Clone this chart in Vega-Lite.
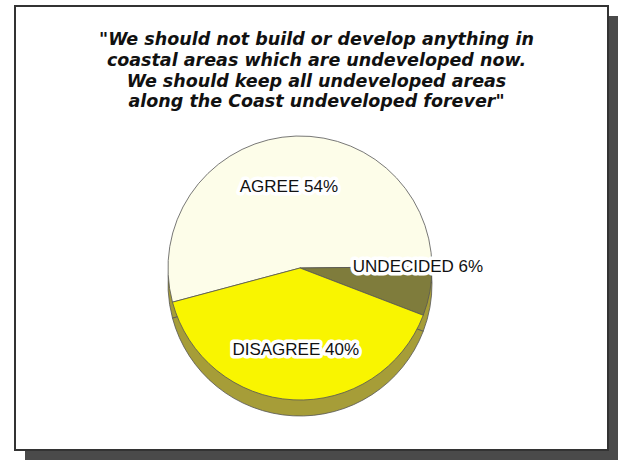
{
  "$schema": "https://vega.github.io/schema/vega-lite/v6.json",
  "width": 603,
  "height": 454,
  "autosize": "none",
  "padding": {"left": 15, "top": 6, "right": 0, "bottom": 0},
  "background": "white",
  "config": {"view": {"stroke": null}},
  "title": {
    "text": ["\"We should not build or develop anything in", "coastal areas which are undeveloped now.", "We should keep all undeveloped areas", "along the Coast undeveloped forever\""],
    "font": "DejaVu Sans",
    "fontSize": 17.5,
    "fontStyle": "italic",
    "fontWeight": "bold",
    "color": "#111111",
    "lineHeight": 20.7,
    "anchor": "middle",
    "offset": -106
  },
  "data": {
    "values": [
      {"answer": "AGREE", "pct": 54, "order": 1, "label": "AGREE 54%"},
      {"answer": "UNDECIDED", "pct": 6, "order": 2, "label": "UNDECIDED 6%"},
      {"answer": "DISAGREE", "pct": 40, "order": 3, "label": "DISAGREE 40%"}
    ]
  },
  "layer": [
    {
      "data": {"values": [{}]},
      "mark": {"type": "rect", "fill": "#4a4a4a"},
      "encoding": {"x": {"value": 10}, "x2": {"value": "width"}, "y": {"value": 10}, "y2": {"value": "height"}}
    },
    {
      "data": {"values": [{}]},
      "mark": {"type": "rect", "fill": "white", "stroke": "#333333", "strokeWidth": 2},
      "encoding": {"x": {"value": 0}, "x2": {"value": 593}, "y": {"value": 0}, "y2": {"value": 444}}
    },
    {
      "mark": {"type": "arc", "outerRadius": 132, "xOffset": -16.5, "yOffset": 51, "fill": "#a69d38", "stroke": "#555555", "strokeWidth": 0.8},
      "encoding": {
        "theta": {"field": "pct", "type": "quantitative", "stack": true, "scale": {"range": [-1.8326, 4.4506]}},
        "order": {"field": "order", "type": "quantitative"}
      }
    },
    {
      "mark": {"type": "arc", "outerRadius": 132, "xOffset": -16.5, "yOffset": 35, "stroke": "#555555", "strokeWidth": 0.8},
      "encoding": {
        "theta": {"field": "pct", "type": "quantitative", "stack": true},
        "order": {"field": "order", "type": "quantitative"},
        "color": {"field": "answer", "type": "nominal", "legend": null,
          "scale": {"domain": ["AGREE", "UNDECIDED", "DISAGREE"], "range": ["#fdfde9", "#7f7c3c", "#f9f500"]}}
      }
    },
    {
      "mark": {"type": "text", "radius": 82, "xOffset": -16.5, "yOffset": 35, "font": "Liberation Sans", "fontSize": 17, "fill": "white", "stroke": "white", "strokeWidth": 7, "strokeJoin": "round"},
      "encoding": {
        "theta": {"field": "pct", "type": "quantitative", "stack": true},
        "order": {"field": "order", "type": "quantitative"},
        "text": {"condition": {"test": "datum.answer != 'UNDECIDED'", "field": "label"}, "value": ""}
      }
    },
    {
      "mark": {"type": "text", "radius": 118, "thetaOffset": -0.19, "xOffset": -16.5, "yOffset": 35, "font": "Liberation Sans", "fontSize": 17, "fill": "white", "stroke": "white", "strokeWidth": 7, "strokeJoin": "round"},
      "encoding": {
        "theta": {"field": "pct", "type": "quantitative", "stack": true},
        "order": {"field": "order", "type": "quantitative"},
        "text": {"condition": {"test": "datum.answer == 'UNDECIDED'", "field": "label"}, "value": ""}
      }
    },
    {
      "mark": {"type": "text", "radius": 82, "xOffset": -16.5, "yOffset": 35, "font": "Liberation Sans", "fontSize": 17, "color": "#111111"},
      "encoding": {
        "theta": {"field": "pct", "type": "quantitative", "stack": true},
        "order": {"field": "order", "type": "quantitative"},
        "text": {"condition": {"test": "datum.answer != 'UNDECIDED'", "field": "label"}, "value": ""}
      }
    },
    {
      "mark": {"type": "text", "radius": 118, "thetaOffset": -0.19, "xOffset": -16.5, "yOffset": 35, "font": "Liberation Sans", "fontSize": 17, "color": "#111111"},
      "encoding": {
        "theta": {"field": "pct", "type": "quantitative", "stack": true},
        "order": {"field": "order", "type": "quantitative"},
        "text": {"condition": {"test": "datum.answer == 'UNDECIDED'", "field": "label"}, "value": ""}
      }
    }
  ]
}
